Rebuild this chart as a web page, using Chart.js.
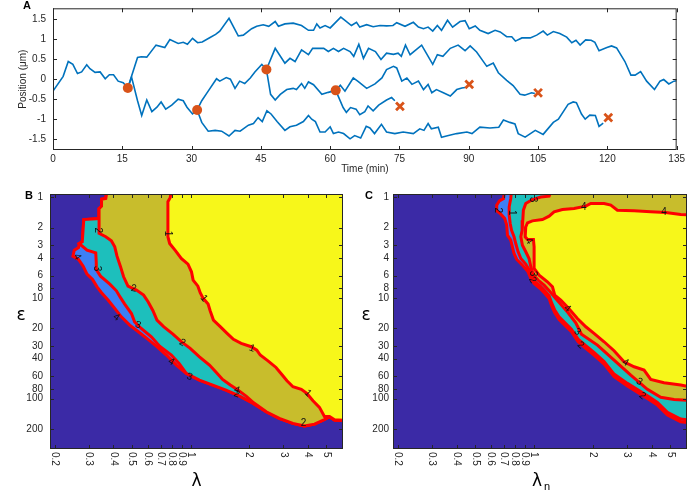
<!DOCTYPE html>
<html>
<head>
<meta charset="utf-8">
<script src="https://cdn.jsdelivr.net/npm/chart.js@4/dist/chart.umd.min.js"></script>
<style>
  body { margin: 0; background: #fff; width: 688px; height: 492px; position: relative; overflow: hidden; }
  .panel { position: absolute; }
</style>
</head>
<body>
<div class="panel" style="left:0;top:0;width:688px;height:180px"><canvas id="chartA"></canvas></div>
<div class="panel" style="left:0;top:180px;width:345px;height:312px"><canvas id="chartB"></canvas></div>
<div class="panel" style="left:345px;top:180px;width:343px;height:312px"><canvas id="chartC"></canvas></div>
<script>
// ---- panel A: tracked positions, [time (min), position (um)] ----
var trackRoot = [[0,-0.30],[2.2,0.07],[3.3,0.44],[4.3,0.37],[5.3,0.14],[6.2,0.18],[7.3,0.36],[8.0,0.26],[9.1,0.17],[10.2,0.18],[11.3,0.01],[12.2,0.11],[13.1,0.11],[14.1,-0.05],[15.2,-0.09],[16.2,-0.22]];
var track1Up = [[16.2,-0.22],[17.0,0.07],[18.3,0.54],[19.1,0.56],[20.3,0.55],[22.3,0.85],[24.2,0.79],[25.3,0.99],[27.1,0.89],[28.2,0.92],[29.1,0.87],[30.2,1.02],[31.3,0.91],[32.3,0.93],[34.0,1.04],[35.2,1.12],[36.1,1.2],[38.1,1.52],[40.1,1.08],[41.2,1.10],[43.0,1.26],[44.1,1.32],[45.5,1.36],[46.7,1.32],[48.1,1.44],[48.8,1.32],[50.2,1.38],[52.0,1.40],[53.8,1.34],[55.3,1.22],[56.4,1.22],[57.1,1.38],[57.8,1.28],[58.9,1.34],[60.0,1.28],[62.3,1.55],[63.2,1.47],[64.6,1.34],[65.7,1.42],[66.4,1.30],[67.9,1.36],[69.3,1.31],[70.8,1.34],[72.2,1.33],[73.6,1.34],[74.4,1.41],[76.2,1.32],[78.0,1.42],[79.1,1.30],[80.2,1.26],[81.2,1.30],[82.2,1.20],[83.2,1.34],[84.1,1.22],[85.4,1.47],[86.5,1.30],[88.1,1.44],[89.2,1.46],[90.1,1.26],[91.4,1.33],[92.4,1.22],[94.2,1.14],[95.7,1.22],[96.8,1.18],[98.2,1.06],[99.3,1.06],[100.1,0.95],[101.5,1.03],[103.3,1.03],[104.7,1.10],[106.1,1.20],[107.0,1.10],[108.3,1.19],[109.7,1.14],[111.2,1.05],[112.3,0.91],[113.2,0.97],[114.1,0.85],[115.3,0.98],[116.5,0.97],[117.3,0.92],[118.2,0.71],[119.9,0.79],[120.9,0.83],[122.0,0.78],[123.8,0.44],[125.1,0.10],[126.0,0.10],[127.2,0.19],[128.5,-0.05],[130.2,-0.26],[131.4,-0.05],[132.2,-0.01],[133.3,-0.12],[134.4,-0.05],[135,-0.04]];
var track1Down = [[16.2,-0.22],[17.0,0.05],[18.3,-0.54],[19.2,-0.91],[20.3,-0.52],[21.4,-0.81],[22.5,-0.70],[23.4,-0.57],[24.4,-0.75],[25.7,-0.65],[27.1,-0.50],[28.2,-0.54],[29.0,-0.70],[30.2,-0.87],[31.2,-0.77]];
var track2Up = [[31.2,-0.77],[32.2,-0.54],[33.3,-0.35],[35.4,0.01],[36.1,-0.05],[37.5,0.04],[38.4,0.0],[39.4,-0.23],[40.4,-0.05],[41.5,-0.11],[42.7,0.03],[43.7,0.18],[45.2,0.37],[46.2,0.24]];
var track2Down = [[31.2,-0.77],[32.2,-1.08],[33.6,-1.30],[35.1,-1.28],[36.5,-1.30],[38.1,-1.42],[39.4,-1.28],[40.5,-1.30],[42.3,-1.15],[43.4,-1.11],[44.4,-0.96],[45.3,-1.06],[46.3,-0.79],[47.2,-0.87],[48.5,-1.06],[50.2,-1.28],[51.3,-1.19],[52.7,-1.15],[54.2,-1.06],[55.3,-0.91],[56.0,-1.0],[56.8,-1.06],[57.8,-1.32],[58.9,-1.32],[60.0,-1.19],[60.7,-1.36],[61.8,-1.32],[62.9,-1.36],[64.3,-1.49],[65.3,-1.41],[66.6,-1.47],[67.8,-1.18],[68.6,-1.22],[69.6,-1.36],[71.1,-1.13],[72.2,-1.32],[74.0,-1.36],[75.8,-1.32],[78.0,-1.36],[79.4,-1.24],[80.3,-1.28],[81.2,-1.11],[81.9,-1.24],[83.4,-1.20],[84.1,-1.45],[85.6,-1.41],[87.4,-1.36],[89.6,-1.32],[90.7,-1.36],[92.4,-1.20],[94.6,-1.22],[96.5,-1.20],[97.5,-1.02],[98.9,-1.08],[100.0,-1.12],[100.7,-1.36],[102.2,-1.45],[104.4,-1.28],[106.1,-1.38],[108.3,-1.08],[109.4,-1.0],[111.5,-0.63],[112.6,-0.57],[113.3,-0.59],[114.4,-0.87],[115.2,-1.0],[116.2,-0.90],[117.4,-0.91],[118.2,-1.18],[119.1,-1.10]];
var track3Up = [[46.2,0.24],[48.1,0.77],[50.2,0.40],[51.3,0.52],[52.4,0.44],[53.8,0.73],[55.3,0.61],[56.2,0.77],[58.6,0.77],[59.6,0.69],[60.7,0.77],[61.8,0.69],[62.9,0.77],[64.3,0.69],[65.1,0.57],[66.2,0.87],[67.2,0.52],[68.3,0.77],[69.8,0.69],[71.0,0.49],[72.2,0.65],[73.7,0.62],[74.7,0.65],[75.4,0.57],[76.3,0.85],[77.3,0.61],[79.8,0.85],[80.8,0.65],[82.2,0.37],[83.2,0.61],[84.4,0.57],[86.0,0.77],[87.7,0.85],[89.2,0.71],[90.3,0.83],[91.7,0.68],[93.9,0.32],[95.3,0.40],[96.4,0.16],[98.2,-0.03],[99.6,-0.16],[101.1,-0.38],[102.1,-0.40],[103.6,-0.34],[104.3,-0.36]];
var track3Down = [[46.2,0.24],[47.1,-0.38],[48.1,-0.52],[49.2,-0.38],[50.6,-0.26],[52.0,-0.23],[52.7,-0.26],[53.8,-0.11],[54.5,-0.23],[55.3,-0.07],[56.4,-0.14],[58.2,-0.38],[59.6,-0.33],[61.2,-0.28]];
var track4Up = [[61.2,-0.28],[62.2,-0.15],[63.2,-0.30],[65.0,0.03],[66.1,-0.06],[67.9,-0.23],[69.7,-0.12],[71.2,0.03],[72.2,0.24],[73.7,0.32],[74.4,0.28],[75.5,-0.05],[76.6,0.03],[77.7,-0.13],[79.1,-0.05],[80.2,-0.26],[81.2,-0.13],[82.0,-0.34],[83.0,-0.26],[84.5,-0.34],[86.0,-0.42],[87.4,-0.26],[88.5,-0.22],[89.2,-0.21]];
var track4Down = [[61.2,-0.28],[62.8,-0.71],[63.5,-0.83],[64.4,-0.71],[65.6,-0.75],[66.4,-0.89],[67.5,-0.81],[68.2,-0.67],[69.3,-0.79],[70.5,-0.65],[72.2,-0.52],[73.3,-0.46],[74.0,-0.54]];
var splitTime = [16.2, 31.2, 46.2, 61.2];
var splitPos = [-0.22, -0.77, 0.24, -0.28];
var endTime = [75.1, 90.1, 105.0, 120.2];
var endPos = [-0.68, -0.13, -0.34, -0.96];
var timeTicks = [0, 15, 30, 45, 60, 75, 90, 105, 120, 135];
var posTicks = [-1.5, -1, -0.5, 0, 0.5, 1, 1.5];

// ---- panels B and C: region outlines, [lambda, epsilon] ----
var bLevel4 = [[0.372,0.85],[0.366,1.03],[0.348,1.05],[0.348,1.23],[0.338,1.30],[0.338,1.63],[0.282,1.67],[0.277,2.77],[0.267,2.88],[0.265,3.16],[0.252,3.36],[0.248,3.85],[0.265,4.15],[0.280,4.84],[0.293,5.81],[0.313,6.56],[0.330,7.76],[0.348,8.89],[0.376,10.5],[0.407,12.7],[0.440,15.4],[0.486,18.6],[0.547,22.2],[0.604,25.8],[0.666,30.1],[0.750,36.9],[0.844,46.4],[0.950,56.1],[1.11,65.4],[1.30,73.3],[1.52,82.2],[1.79,94.3],[2.09,111],[2.45,135],[2.86,157],[3.36,176],[3.85,187],[4.34,179],[4.88,161],[5.18,151],[5.50,163],[6.6,166],[6.6,0.85]];
var bLevel3 = [[0.372,0.85],[0.366,1.03],[0.348,1.05],[0.348,1.23],[0.338,1.30],[0.338,1.63],[0.282,1.67],[0.277,2.77],[0.267,2.88],[0.277,3.06],[0.293,3.36],[0.325,3.57],[0.327,4.48],[0.327,5.22],[0.344,6.08],[0.384,7.30],[0.415,8.50],[0.435,9.89],[0.458,11.5],[0.496,14.3],[0.515,17.3],[0.557,20.1],[0.628,24.3],[0.693,30.1],[0.796,36.9],[0.872,44.7],[0.950,56.1],[1.11,65.4],[1.30,73.3],[1.52,82.2],[1.79,94.3],[2.09,111],[2.45,135],[2.86,157],[3.36,176],[3.85,187],[4.34,179],[4.88,161],[5.18,151],[5.50,163],[6.6,166],[6.6,0.85]];
var bLevel2 = [[0.372,0.85],[0.366,1.03],[0.348,1.05],[0.348,1.23],[0.338,1.30],[0.338,1.63],[0.338,2.29],[0.366,2.47],[0.391,2.71],[0.407,3.11],[0.418,3.85],[0.435,4.84],[0.452,6.17],[0.476,7.64],[0.526,8.37],[0.573,9.38],[0.604,10.9],[0.640,13.4],[0.671,16.6],[0.726,19.3],[0.811,22.9],[0.895,27.2],[0.995,31.7],[1.11,38.4],[1.25,46.4],[1.36,55.3],[1.46,64.4],[1.60,73.3],[1.75,82.2],[1.93,94.3],[2.11,110],[2.45,135],[2.86,157],[3.36,176],[3.85,187],[4.34,179],[4.88,161],[5.18,151],[5.50,163],[6.6,166],[6.6,0.85]];
var bLevel1 = [[0.796,0.85],[0.785,1.01],[0.764,1.11],[0.764,2.47],[0.780,2.88],[0.837,3.41],[0.895,4.06],[0.969,4.62],[1.01,5.50],[1.03,6.66],[1.09,7.64],[1.12,8.89],[1.16,10.1],[1.23,11.5],[1.26,13.4],[1.31,16.6],[1.42,19.3],[1.54,22.5],[1.66,25.8],[1.82,28.3],[2.05,30.5],[2.19,33.0],[2.28,36.9],[2.50,42.1],[2.75,49.0],[2.96,58.3],[3.13,66.4],[3.36,76.2],[3.71,80.9],[3.96,88.7],[4.26,105],[4.60,122],[4.88,150],[5.18,150],[5.50,162],[6.6,165],[6.6,0.85]];
var bLabels = [[0.331,2.13,'2',90],[0.764,2.29,'1',90],[0.261,3.91,'4',60],[0.327,5.10,'3',90],[0.509,8.05,'2',10],[1.17,10.1,'1',50],[0.415,15.6,'4',35],[0.536,18.6,'3',20],[0.906,27.9,'2',30],[2.07,31.7,'1',20],[0.795,43.0,'4',30],[0.988,60.6,'3',20],[1.73,82.2,'4',20],[1.73,90.0,'2',20],[4.01,88.6,'1',45],[3.81,176,'2',0]];

var cLevel4 = [[0.707,0.85],[0.697,1.031],[0.664,1.087],[0.643,1.200],[0.643,1.366],[0.675,1.475],[0.707,1.628],[0.724,1.896],[0.730,2.382],[0.759,2.672],[0.774,3.110],[0.789,3.623],[0.815,4.153],[0.871,4.728],[0.931,5.507],[0.962,6.411],[1.000,7.187],[1.074,8.058],[1.135,9.030],[1.194,10.12],[1.227,11.79],[1.276,14.05],[1.343,16.36],[1.453,19.05],[1.553,21.68],[1.681,27.24],[1.841,31.72],[2.028,36.94],[2.285,45.38],[2.570,60.58],[3.009,74.99],[3.810,99.40],[4.287,115.8],[4.826,145.4],[5.645,169.3],[6.6,176.1],[6.6,0.85]];
var cLevel1 = [[0.766,0.85],[0.759,1.031],[0.745,1.247],[0.745,1.509],[0.754,1.825],[0.766,2.126],[0.789,2.475],[0.805,2.883],[0.828,3.485],[0.855,4.059],[0.906,4.621],[0.962,5.60],[1.000,6.76],[1.074,7.58],[1.135,8.49],[1.194,9.52],[1.227,11.09],[1.276,13.22],[1.343,15.39],[1.453,17.92],[1.553,20.40],[1.681,25.63],[1.841,29.84],[2.028,34.75],[2.285,42.69],[2.570,56.99],[3.009,70.55],[3.810,93.51],[4.287,108.9],[4.826,136.8],[5.645,159.3],[6.6,165.7],[6.6,0.85]];
var cLevel3 = [[1.227,0.85],[1.194,0.977],[1.082,0.997],[0.980,1.055],[0.906,1.156],[0.881,1.346],[0.875,1.691],[0.868,2.126],[0.855,2.475],[0.871,2.994],[0.906,3.485],[0.942,4.059],[0.962,4.911],[0.992,5.940],[1.048,6.660],[1.125,7.465],[1.208,8.690],[1.291,10.12],[1.381,11.79],[1.494,14.05],[1.635,17.65],[1.749,22.87],[2.112,29.40],[2.570,41.41],[3.130,58.35],[3.810,80.90],[4.458,97.03],[5.219,101.7],[6.6,104.9],[6.6,0.85]];
var cYellow = [[6.6,1.509],[5.645,1.486],[4.731,1.419],[3.963,1.398],[3.256,1.366],[2.673,1.346],[2.472,1.200],[2.285,1.156],[1.952,1.156],[1.841,1.228],[1.603,1.296],[1.397,1.326],[1.266,1.398],[1.194,1.543],[1.103,1.666],[0.980,1.718],[0.925,1.798],[0.906,1.969],[0.900,2.475],[0.925,2.630],[0.992,2.630],[1.000,3.110],[1.000,5.101],[1.061,5.940],[1.170,6.918],[1.242,7.757],[1.276,9.380],[1.370,10.52],[1.494,12.53],[1.667,15.99],[1.841,19.34],[2.028,22.53],[2.285,27.24],[2.570,33.46],[2.891,43.03],[3.256,48.24],[3.663,52.0],[3.963,64.41],[4.636,69.51],[5.645,73.28],[6.6,77.30]];
var cLabels = [[0.653,1.346,'2',90],[0.766,1.43,'1',90],[0.98,1.055,'3',90],[1.80,1.247,'4',0],[4.64,1.419,'4',0],[0.942,2.73,'4',60],[0.98,5.72,'3',90],[0.98,6.66,'2',60],[1.48,12.7,'4',40],[1.667,21.7,'3',40],[1.73,29.4,'2',40],[2.94,43.8,'4',30],[3.46,67.9,'3',30],[3.59,93.9,'2',40]];

var lamTicks = [0.2, 0.3, 0.4, 0.5, 0.6, 0.7, 0.8, 0.9, 1, 2, 3, 4, 5];
var epsTicks = [1, 2, 3, 4, 6, 8, 10, 20, 30, 40, 60, 80, 100, 200];

var FONT = '"Liberation Sans", Arial, sans-serif';
Chart.defaults.font.family = FONT;
Chart.defaults.font.size = 10;
Chart.defaults.color = '#262626';
Chart.defaults.animation = false;

function pts(arr) {
  return arr.map(function (p) { return {x: p[0], y: p[1]}; });
}

// box round the plot area with inward ticks on all four sides
var framePlugin = {
  id: 'frame',
  afterDraw: function (chart) {
    var ctx = chart.ctx, a = chart.chartArea, sx = chart.scales.x, sy = chart.scales.y;
    var len = 4;
    ctx.save();
    ctx.strokeStyle = '#262626';
    ctx.lineWidth = 1;
    ctx.beginPath();
    sx.ticks.forEach(function (t) {
      var px = Math.round(sx.getPixelForValue(t.value)) + 0.5;
      ctx.moveTo(px, a.bottom); ctx.lineTo(px, a.bottom - len);
      ctx.moveTo(px, a.top); ctx.lineTo(px, a.top + len);
    });
    sy.ticks.forEach(function (t) {
      var py = Math.round(sy.getPixelForValue(t.value)) + 0.5;
      ctx.moveTo(a.left, py); ctx.lineTo(a.left + len, py);
      ctx.moveTo(a.right, py); ctx.lineTo(a.right - len, py);
    });
    ctx.stroke();
    ctx.strokeRect(a.left + 0.5, a.top + 0.5, a.width - 1, a.height - 1);
    ctx.restore();
  }
};

var noGrid = { display: false, drawTicks: false };

// ---- A ----
function track(arr) {
  return { data: pts(arr), borderColor: '#0072bd', borderWidth: 1.6, pointRadius: 0, fill: false, order: 2 };
}

new Chart(document.getElementById('chartA'), {
  type: 'line',
  data: {
    datasets: [
      { data: splitTime.map(function (t, i) { return {x: t, y: splitPos[i]}; }), showLine: false,
        pointStyle: 'circle', pointRadius: 5, pointBackgroundColor: '#d95319', pointBorderWidth: 0, order: 0 },
      { data: endTime.map(function (t, i) { return {x: t, y: endPos[i]}; }), showLine: false,
        pointStyle: 'crossRot', pointRadius: 5.5, pointBorderColor: '#d95319', pointBorderWidth: 2.8, order: 0 },
      track(trackRoot), track(track1Up), track(track1Down), track(track2Up), track(track2Down),
      track(track3Up), track(track3Down), track(track4Up), track(track4Down)
    ]
  },
  options: {
    responsive: true,
    maintainAspectRatio: false,
    devicePixelRatio: 1,
    layout: { padding: { top: 5, right: 11, left: 0, bottom: 0 } },
    plugins: { legend: { display: false }, tooltip: { enabled: false } },
    scales: {
      x: {
        type: 'linear', min: 0, max: 135,
        grid: noGrid, border: { display: false },
        afterBuildTicks: function (s) { s.ticks = timeTicks.map(function (v) { return {value: v}; }); },
        afterFit: function (s) { s.height = 30; },
        ticks: { padding: 3, maxRotation: 0, callback: function (v) { return String(v); } },
        title: { display: true, text: 'Time (min)', padding: { top: 0, bottom: 5 } }
      },
      y: {
        type: 'linear', min: -1.77, max: 1.77,
        grid: noGrid, border: { display: false },
        afterBuildTicks: function (s) { s.ticks = posTicks.map(function (v) { return {value: v}; }); },
        afterFit: function (s) { s.width = 53; s.paddingTop = 0; s.paddingBottom = 0; },
        ticks: { padding: 7, callback: function (v) { return String(v); } },
        title: { display: true, text: 'Position (\u03bcm)', padding: { top: 17, bottom: 0 } }
      }
    }
  },
  plugins: [framePlugin, {
    id: 'letterA',
    afterDraw: function (chart) {
      var ctx = chart.ctx;
      ctx.save();
      ctx.font = 'bold 11px ' + FONT;
      ctx.fillStyle = '#000';
      ctx.textAlign = 'center';
      ctx.textBaseline = 'middle';
      ctx.fillText('A', 27, 6);
      ctx.restore();
    }
  }]
});

// ---- B and C ----
var DARK = '#3b2aa6';

function mapChart(id, levels, labels, cfg) {
  var datasets = levels.map(function (lv, i) {
    return {
      data: pts(lv.pts),
      fill: 'shape',
      backgroundColor: lv.color,
      borderColor: '#ff0000',
      borderWidth: 3,
      pointRadius: 0,
      order: levels.length - i,
      clip: 0
    };
  });
  return new Chart(document.getElementById(id), {
    type: 'line',
    data: { datasets: datasets },
    options: {
      responsive: true,
      maintainAspectRatio: false,
      devicePixelRatio: 1,
      layout: { padding: { top: 14, right: cfg.right, left: 0, bottom: 0 } },
      plugins: { legend: { display: false }, tooltip: { enabled: false } },
      scales: {
        x: {
          type: 'logarithmic', min: 0.189, max: 6.08,
          grid: noGrid, border: { display: false },
          afterBuildTicks: function (s) { s.ticks = lamTicks.map(function (v) { return {value: v}; }); },
          afterFit: function (s) { s.height = 43; },
          ticks: { display: false }
        },
        y: {
          type: 'logarithmic', min: 0.93, max: 316, reverse: true,
          grid: noGrid, border: { display: false },
          afterBuildTicks: function (s) { s.ticks = epsTicks.map(function (v) { return {value: v}; }); },
          afterFit: function (s) { s.width = cfg.yWidth; s.paddingTop = 0; s.paddingBottom = 0; },
          ticks: { padding: cfg.yPad, callback: function (v) { return String(v); } }
        }
      }
    },
    plugins: [{
      id: 'mapDecor',
      beforeDatasetsDraw: function (chart) {
        var ctx = chart.ctx, a = chart.chartArea;
        ctx.save();
        ctx.fillStyle = DARK;
        ctx.fillRect(a.left, a.top, a.width, a.height);
        ctx.restore();
      },
      afterDraw: function (chart) {
        var ctx = chart.ctx, a = chart.chartArea, sx = chart.scales.x, sy = chart.scales.y;
        ctx.save();
        // x tick labels, turned a quarter clockwise
        ctx.font = '10px ' + FONT;
        ctx.fillStyle = '#262626';
        ctx.textAlign = 'left';
        ctx.textBaseline = 'middle';
        sx.ticks.forEach(function (t) {
          ctx.save();
          ctx.translate(sx.getPixelForValue(t.value), a.bottom + 3);
          ctx.rotate(Math.PI / 2);
          ctx.fillText(String(t.value), 0, 0);
          ctx.restore();
        });
        // contour labels
        ctx.font = '10px ' + FONT;
        ctx.fillStyle = '#111';
        ctx.textAlign = 'center';
        labels.forEach(function (l) {
          ctx.save();
          ctx.translate(sx.getPixelForValue(l[0]), sy.getPixelForValue(l[1]));
          ctx.rotate(l[3] * Math.PI / 180);
          ctx.fillText(l[2], 0, 0);
          ctx.restore();
        });
        // panel letter and axis names
        ctx.fillStyle = '#000';
        ctx.font = 'bold 11px ' + FONT;
        ctx.fillText(cfg.letter, cfg.letterX, 16);
        ctx.font = '17px "DejaVu Sans", sans-serif';
        ctx.fillText('\u03b5', cfg.epsX, 136);
        var cx = (a.left + a.right) / 2;
        ctx.fillText('\u03bb', cx - (cfg.sub ? 3 : 0), 302);
        if (cfg.sub) {
          ctx.font = '11px ' + FONT;
          ctx.fillText(cfg.sub, cx + 7, 307);
        }
        ctx.restore();
      }
    }, framePlugin]
  });
}

mapChart('chartB', [
  { pts: bLevel4, color: '#3d7ff5' },
  { pts: bLevel3, color: '#1dbfbc' },
  { pts: bLevel2, color: '#c8bd2c' },
  { pts: bLevel1, color: '#f7f71a' }
], bLabels, { right: 2, yWidth: 50, yPad: 7, letter: 'B', letterX: 29, epsX: 21, sub: '' });

mapChart('chartC', [
  { pts: cLevel4, color: '#3d7ff5' },
  { pts: cLevel1, color: '#1dbfbc' },
  { pts: cLevel3, color: '#c8bd2c' },
  { pts: cYellow, color: '#f7f71a' }
], cLabels, { right: 1, yWidth: 48, yPad: 4, letter: 'C', letterX: 24, epsX: 21, sub: 'n' });
</script>
</body>
</html>
